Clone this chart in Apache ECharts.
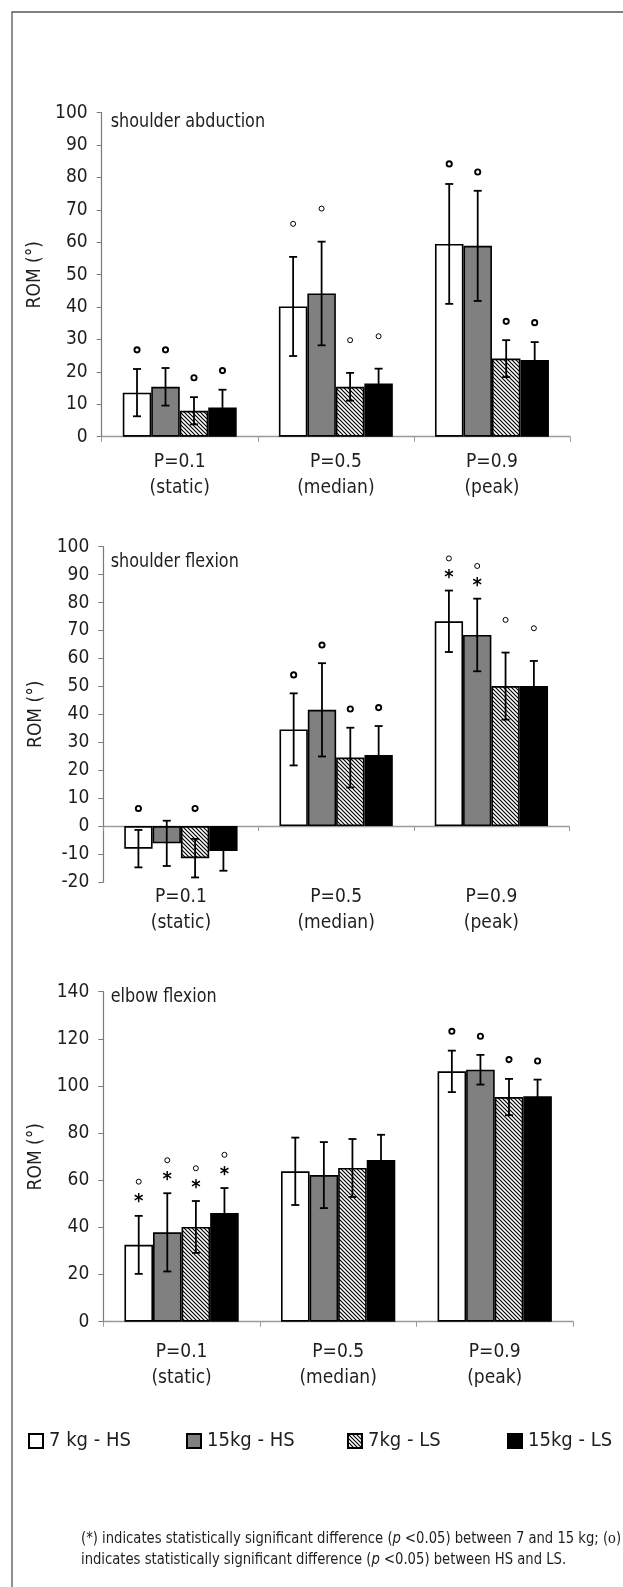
<!DOCTYPE html>
<html><head><meta charset="utf-8">
<script src="https://cdn.jsdelivr.net/npm/echarts@6/dist/echarts.min.js"></script>
<style>html,body{margin:0;padding:0;background:#fff}#c{width:623px;height:1587px}</style>
</head><body><div id="c"></div>
<script>
// ---------- data ----------
const categories = ['P=0.1\n(static)', 'P=0.5\n(median)', 'P=0.9\n(peak)'];
const seriesNames = ['7 kg - HS', '15kg - HS', '7kg - LS', '15kg - LS'];

// shoulder abduction: per series [P=0.1, P=0.5, P=0.9]
const abdMean   = [[13.6, 40.2, 59.5], [15.4, 44.2, 58.9], [8.0, 15.4, 24.1], [9.0, 16.4, 23.7]];
const abdSD     = [[7.3, 15.3, 18.5], [5.8, 16.0, 17.0], [4.2, 4.3, 5.7], [5.5, 4.6, 5.5]];
const abdCircle = [[26.8, 65.7, 84.2], [26.8, 70.4, 81.7], [18.2, 29.8, 35.6], [20.4, 31.0, 35.2]];
const abdStar   = [[null, null, null], [null, null, null], [null, null, null], [null, null, null]];

// shoulder flexion
const flxMean   = [[-8.1, 34.6, 73.3], [-6.2, 41.6, 68.4], [-11.5, 24.5, 50.1], [-8.9, 25.4, 50.1]];
const flxSD     = [[6.7, 12.9, 11.0], [8.1, 16.7, 13.0], [6.9, 10.7, 12.0], [7.1, 10.4, 9.0]];
const flxCircle = [[6.3, 54.1, 95.8], [null, 64.8, 93.1], [6.3, 41.9, 73.8], [null, 42.4, 70.8]];
const flxStar   = [[null, null, 90.7], [null, null, 87.7], [null, null, null], [null, null, null]];

// elbow flexion
const elbMean   = [[32.6, 63.8, 106.2], [37.9, 62.2, 106.9], [40.2, 65.2, 95.3], [46.1, 68.6, 95.6]];
const elbSD     = [[12.3, 14.3, 8.8], [16.6, 14.0, 6.3], [11.0, 12.3, 7.7], [10.6, 10.7, 7.1]];
const elbCircle = [[59.4, null, 123.2], [68.5, null, 121.1], [65.1, null, 111.2], [70.8, null, 110.6]];
const elbStar   = [[53.0, null, null], [62.3, null, null], [58.9, null, null], [64.5, null, null]];

const panelTitles = ['shoulder abduction', 'shoulder flexion', 'elbow flexion'];
const yRanges = [[0, 100, 10], [-20, 100, 10], [0, 140, 20]];
const yName = 'ROM (°)';

// ---------- styles / layout ----------
const FONT = '"DejaVu Sans Condensed", "Liberation Sans Narrow", sans-serif';
const TXT = '#1e1e1e';
const GAP = 0.27;

function hatch() {
  const c = document.createElement('canvas');
  c.width = 4; c.height = 4;
  const g = c.getContext('2d');
  g.fillStyle = '#fff'; g.fillRect(0, 0, 4, 4);
  g.strokeStyle = '#000'; g.lineWidth = 1.2;
  g.beginPath();
  g.moveTo(0, 0); g.lineTo(4, 4);
  g.moveTo(-1, 3); g.lineTo(1, 5);
  g.moveTo(3, -1); g.lineTo(5, 1);
  g.stroke();
  return c;
}
const fills = ['#ffffff', '#808080', { image: hatch(), repeat: 'repeat' }, '#000000'];

const panels = [
  { mean: abdMean, sd: abdSD, circ: abdCircle, star: abdStar, left: 101.7, right: 53, top: 112.7, height: 324, labelMargin: 12, titleY: 121.7, bold: [true, false, true] },
  { mean: flxMean, sd: flxSD, circ: flxCircle, star: flxStar, left: 103.3, right: 54, top: 546.7, height: 335.2, labelMargin: 2, titleY: 561.7, bold: [true, true, false] },
  { mean: elbMean, sd: elbSD, circ: elbCircle, star: elbStar, left: 103.3, right: 50, top: 991.7, height: 330, labelMargin: 17, titleY: 996.7, bold: [false, false, true] }
];

const grid = [], xAxis = [], yAxis = [], series = [], graphic = [];
const axisGray = '#9a9a9a';

panels.forEach((p, pi) => {
  grid.push({ left: p.left, right: p.right, top: p.top, height: p.height });
  const r = yRanges[pi];
  yAxis.push({
    type: 'value', gridIndex: pi, min: r[0], max: r[1], interval: r[2],
    name: yName, nameLocation: 'middle', nameGap: 51,
    nameTextStyle: { fontSize: 19, fontFamily: FONT, color: TXT },
    axisLine: { show: true, lineStyle: { color: '#7a7a7a', width: 1.2 } },
    axisTick: { show: true, length: 5, lineStyle: { color: '#7a7a7a' } },
    axisLabel: { fontSize: 19, fontFamily: FONT, color: TXT, margin: 14 },
    splitLine: { show: false }
  });
  const lineAxisIndex = xAxis.length;
  const hasNeg = r[0] < 0;
  const catLabel = { fontSize: 19, fontFamily: FONT, color: TXT, lineHeight: 26, margin: p.labelMargin };
  xAxis.push({
    type: 'category', gridIndex: pi, data: categories,
    axisLine: { show: true, onZero: true, lineStyle: { color: axisGray, width: 1.3 } },
    axisTick: { show: true, length: 5, lineStyle: { color: axisGray } },
    axisLabel: hasNeg ? { show: false } : catLabel
  });
  if (hasNeg) {
    xAxis.push({
      type: 'category', gridIndex: pi, data: categories, position: 'bottom',
      axisLine: { show: false, onZero: false }, axisTick: { show: false },
      axisLabel: catLabel
    });
  }
  seriesNames.forEach((name, si) => {
    series.push({
      type: 'bar', name, xAxisIndex: lineAxisIndex, yAxisIndex: pi,
      data: p.mean[si], barGap: '0%', barCategoryGap: (GAP * 100) + '%',
      itemStyle: { color: fills[si], borderColor: '#000', borderWidth: 1.6 },
      emphasis: { disabled: true }, z: 2
    });
  });
  seriesNames.forEach((name, si) => {
    series.push({
      type: 'custom', name: name + ' err', xAxisIndex: lineAxisIndex, yAxisIndex: pi, z: 5,
      data: categories.map((c, i) => [i, p.mean[si][i]]),
      renderItem: function (params, api) {
        const ci = params.dataIndex;
        const band = api.size([1, 0])[0];
        const usable = band * (1 - GAP);
        const bw = usable / 4;
        const x = api.coord([ci, 0])[0] - usable / 2 + (si + 0.5) * bw;
        const m = p.mean[si][ci], s = p.sd[si][ci];
        const y1 = api.coord([ci, m + s])[1], y2 = api.coord([ci, m - s])[1];
        const st = { stroke: '#000', lineWidth: 1.8 };
        const ch = [
          { type: 'line', shape: { x1: x, y1: y1, x2: x, y2: y2 }, style: st },
          { type: 'line', shape: { x1: x - 4, y1: y1, x2: x + 4, y2: y1 }, style: st },
          { type: 'line', shape: { x1: x - 4, y1: y2, x2: x + 4, y2: y2 }, style: st }
        ];
        const cv = p.circ[si][ci];
        if (cv != null) {
          const b = p.bold[ci];
          ch.push({ type: 'circle', shape: { cx: x, cy: api.coord([ci, cv])[1], r: b ? 2.6 : 2.5 },
            style: { fill: 'none', stroke: '#000', lineWidth: b ? 1.9 : 1.0 } });
        }
        const sv = p.star[si][ci];
        if (sv != null) {
          ch.push({ type: 'text', x: x, y: api.coord([ci, sv])[1] + 5,
            style: { text: '*', fontSize: 20, fontWeight: 'bold', fontFamily: FONT, fill: '#000', align: 'center', verticalAlign: 'middle' } });
        }
        return { type: 'group', children: ch };
      }
    });
  });
  graphic.push({ type: 'text', x: 110.7, y: p.titleY, scaleX: 0.89,
    style: { text: panelTitles[pi], fontSize: 20, fontFamily: FONT, fill: TXT, verticalAlign: 'middle' } });
});

// figure frame
graphic.push({ type: 'polyline', shape: { points: [[12, 1587], [12, 12], [623, 12]] }, style: { stroke: '#555', lineWidth: 1.3, fill: 'none' } });
// footnote
graphic.push({ type: 'text', x: 81, y: 1528, scaleX: 0.915,
  style: {
    text: '(*) indicates statistically significant difference ({i|p} <0.05) between 7 and 15 kg; ({o|o})\nindicates statistically significant difference ({i|p} <0.05) between HS and LS.',
    fontSize: 16, lineHeight: 21, fontFamily: FONT, fill: TXT,
    rich: { i: { fontStyle: 'italic', fontSize: 16, fontFamily: FONT, fill: TXT }, o: { fontSize: 17, fontFamily: '"Liberation Serif", serif', fill: TXT } }
  } });

const legendLeft = [28, 186, 347, 507];
const legend = seriesNames.map((n, i) => ({
  data: [n], left: legendLeft[i], top: 1431, padding: 0, itemWidth: 14, itemHeight: 14,
  icon: 'rect', selectedMode: false,
  textStyle: { fontSize: 20, fontFamily: FONT, color: TXT, padding: [0, 0, 0, 1] }
}));

const chart = echarts.init(document.getElementById('c'), null, { renderer: 'canvas' });
chart.setOption({
  animation: false,
  backgroundColor: '#fff',
  grid, xAxis, yAxis, series, graphic, legend
});
</script></body></html>
